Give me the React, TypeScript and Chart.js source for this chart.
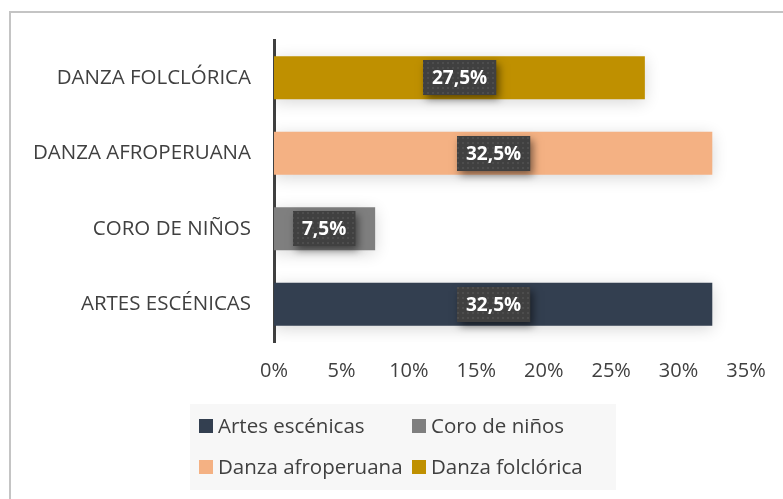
import React, { useEffect, useRef } from 'react';
import { Chart, registerables } from 'chart.js';

Chart.register(...registerables);

const categories = ['DANZA FOLCLÓRICA', 'DANZA AFROPERUANA', 'CORO DE NIÑOS', 'ARTES ESCÉNICAS'];
const seriesNames = ['Artes escénicas', 'Coro de niños', 'Danza afroperuana', 'Danza folclórica'];
const seriesColors = ['#333f50', '#7f7f7f', '#f4b183', '#bf9000'];
const artesEscenicas = [null, null, null, 32.5];
const coroDeNinos = [null, null, 7.5, null];
const danzaAfroperuana = [null, 32.5, null, null];
const danzaFolclorica = [27.5, null, null, null];
const xMin = 0;
const xMax = 35;
const xStep = 5;

const FONT = "'Open Sans', sans-serif";
const TEXT = '#404040';

function makePattern(ctx: CanvasRenderingContext2D) {
  const c = document.createElement('canvas');
  c.width = 5;
  c.height = 5;
  const p = c.getContext('2d')!;
  p.fillStyle = '#404040';
  p.fillRect(0, 0, 5, 5);
  p.fillStyle = '#4d4d4d';
  p.fillRect(2, 2, 2, 2);
  return ctx.createPattern(c, 'repeat');
}

const framePlugin = {
  id: 'frame',
  beforeDraw(chart: any) {
    const ctx = chart.ctx;
    ctx.save();
    ctx.fillStyle = '#ffffff';
    ctx.fillRect(0, 0, chart.width, chart.height);
    ctx.strokeStyle = '#c4c4c4';
    ctx.lineWidth = 2;
    ctx.strokeRect(10, 12, chart.width + 20, chart.height + 20);
    ctx.restore();
  },
};

const shadowPlugin = {
  id: 'barShadow',
  beforeDatasetsDraw(chart: any) {
    const ctx = chart.ctx;
    ctx.save();
    ctx.shadowColor = 'rgba(0,0,0,0.16)';
    ctx.shadowBlur = 16;
    ctx.shadowOffsetX = 0;
    ctx.shadowOffsetY = 3;
  },
  afterDatasetsDraw(chart: any) {
    chart.ctx.restore();
  },
};

const labelPlugin = {
  id: 'boxLabels',
  afterDatasetsDraw(chart: any) {
    const ctx = chart.ctx;
    const pattern = makePattern(ctx);
    chart.data.datasets.forEach((ds: any, di: number) => {
      const meta = chart.getDatasetMeta(di);
      meta.data.forEach((el: any, i: number) => {
        const v = ds.data[i];
        if (v === null || v === undefined) return;
        const text = v.toFixed(1).replace('.', ',') + '%';
        ctx.save();
        ctx.font = `bold 19px ${FONT}`;
        const w = ctx.measureText(text).width + 18;
        const h = 35;
        const cx = (el.x + el.base) / 2;
        const cy = el.y;
        const x = Math.round(cx - w / 2);
        const y = Math.round(cy - h / 2);
        ctx.shadowColor = 'rgba(0,0,0,0.5)';
        ctx.shadowBlur = 8;
        ctx.shadowOffsetX = 3;
        ctx.shadowOffsetY = 4;
        ctx.fillStyle = '#404040';
        ctx.fillRect(x, y, w, h);
        ctx.shadowColor = 'transparent';
        ctx.shadowBlur = 0;
        ctx.shadowOffsetX = 0;
        ctx.shadowOffsetY = 0;
        if (pattern) {
          ctx.fillStyle = pattern;
          ctx.fillRect(x, y, w, h);
        }
        ctx.fillStyle = '#ffffff';
        ctx.textAlign = 'center';
        ctx.textBaseline = 'middle';
        ctx.fillText(text, x + w / 2, y + h / 2 + 1);
        ctx.restore();
      });
    });
  },
};

const legendPlugin = {
  id: 'boxLegend',
  afterDraw(chart: any) {
    const ctx = chart.ctx;
    ctx.save();
    ctx.fillStyle = '#f7f7f7';
    ctx.fillRect(190, 404, 426, 86);
    const cols = [199, 412];
    const rows = [426, 467];
    ctx.font = `20.5px ${FONT}`;
    ctx.textBaseline = 'middle';
    ctx.textAlign = 'left';
    chart.data.datasets.forEach((ds: any, i: number) => {
      const x = cols[i % 2];
      const y = rows[Math.floor(i / 2)];
      ctx.fillStyle = ds.backgroundColor;
      ctx.fillRect(x, y - 7, 14, 14);
      ctx.fillStyle = TEXT;
      ctx.fillText(ds.label, x + 19, y + 1);
    });
    ctx.restore();
  },
};

export default function App() {
  const ref = useRef<HTMLCanvasElement>(null);
  useEffect(() => {
    const canvas = ref.current!;
    const seriesData = [artesEscenicas, coroDeNinos, danzaAfroperuana, danzaFolclorica];
    const chart = new Chart(canvas, {
      type: 'bar',
      data: {
        labels: categories,
        datasets: seriesNames.map((name, i) => ({
          label: name,
          data: seriesData[i] as any,
          backgroundColor: seriesColors[i],
          borderWidth: 0,
          barPercentage: 0.57,
          categoryPercentage: 1,
        })),
      },
      options: {
        indexAxis: 'y',
        responsive: false,
        animation: false,
        layout: { padding: { top: 40, right: 37, left: 0, bottom: 0 } },
        plugins: {
          legend: { display: false },
          tooltip: { enabled: false },
        },
        scales: {
          x: {
            stacked: true,
            min: xMin,
            max: xMax,
            grid: { display: false, drawTicks: false },
            border: { display: false },
            ticks: {
              stepSize: xStep,
              padding: 17,
              color: TEXT,
              font: { family: FONT, size: 20 },
              callback: (v: any) => v + '%',
            },
            afterFit: (s: any) => {
              s.height = 157;
            },
          },
          y: {
            stacked: true,
            z: 1,
            grid: { display: false, drawTicks: false },
            border: { display: true, color: '#404040', width: 3 },
            ticks: {
              padding: 23,
              color: TEXT,
              font: { family: FONT, size: 20.5 },
            },
            afterFit: (s: any) => {
              s.width = 274;
            },
          },
        },
      },
      plugins: [framePlugin, shadowPlugin, labelPlugin, legendPlugin],
    });
    return () => chart.destroy();
  }, []);
  return (
    <div style={{ position: 'absolute', left: 0, top: 0, width: 783, height: 499 }}>
      <canvas ref={ref} width={783} height={499} />
    </div>
  );
}
